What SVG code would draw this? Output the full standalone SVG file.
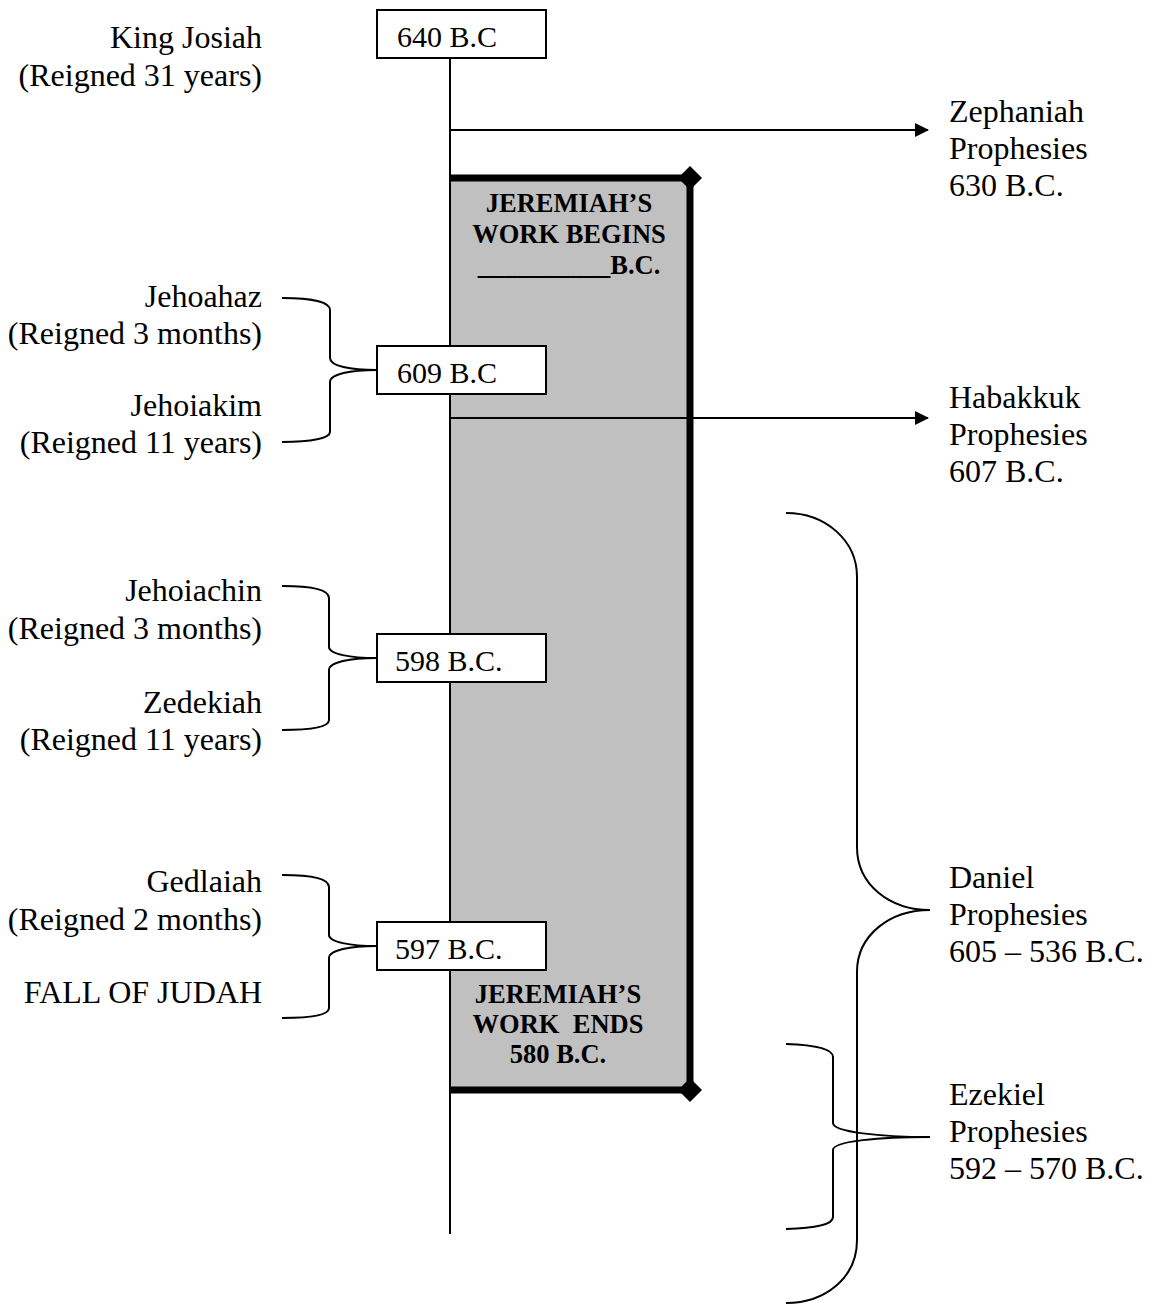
<svg xmlns="http://www.w3.org/2000/svg" width="1163" height="1305" viewBox="0 0 1163 1305">
<style>
.lbl{font-family:"Liberation Serif","Times New Roman",serif;font-size:32px;fill:#000}
.r{text-anchor:end}
.box{fill:#fff;stroke:#000;stroke-width:2}
.bt{font-family:"Liberation Serif","Times New Roman",serif;font-size:30px;fill:#000}
.bold{font-family:"Liberation Serif","Times New Roman",serif;font-size:26.5px;font-weight:bold;fill:#000;text-anchor:middle;white-space:pre}
.ln{fill:none;stroke:#000;stroke-width:2}
.br{fill:none;stroke:#000;stroke-width:2}
.thick{fill:none;stroke:#000;stroke-width:7}
</style>
<defs>
<marker id="arr" markerWidth="14" markerHeight="14" refX="13" refY="7" orient="auto" markerUnits="userSpaceOnUse">
<path d="M0,0 L14,7 L0,14 Z" fill="#000"/>
</marker>
</defs>
<g id="jeremiah">
<rect x="450" y="178" width="240" height="912" fill="#c0c0c0"/>
<path class="thick" d="M450,178 L690,178 L690,1090 L450,1090"/>
<path d="M690,166 L702,178 L690,190 L678,178 Z" fill="#000"/>
<path d="M690,1078 L702,1090 L690,1102 L678,1090 Z" fill="#000"/>
<text class="bold" x="569" y="212">JEREMIAH’S</text>
<text class="bold" x="569" y="243">WORK BEGINS</text>
<text class="bold" x="569" y="274">__________B.C.</text>
<text class="bold" x="558" y="1003">JEREMIAH’S</text>
<text class="bold" x="558" y="1033">WORK  ENDS</text>
<text class="bold" x="558" y="1063">580 B.C.</text>
</g>
<g id="connectors">
<line class="ln" x1="450" y1="58" x2="450" y2="1234"/>
<line class="ln" x1="450" y1="130" x2="928" y2="130" marker-end="url(#arr)"/>
<line class="ln" x1="450" y1="418" x2="928" y2="418" marker-end="url(#arr)"/>
<path class="br" d="M282,298 C312,298 330,302 330,310 L330,358 C330,366 350,370 377,370 C350,370 330,374 330,382 L330,432 C330,438 312,442 282,442"/>
<path class="br" d="M282,586 C312,586 329,590 329,598 L329,647 C329,654 350,658 377,658 C350,658 329,662 329,670 L329,720 C329,727 312,730 282,730"/>
<path class="br" d="M282,875 C312,875 329,879 329,887 L329,935 C329,942 350,946 377,946 C350,946 329,950 329,958 L329,1008 C329,1015 312,1018 282,1018"/>
<path class="br" d="M786,513 C825,513 857,540 857,577 L857,847 C857,885 890,910 930,910 C890,910 857,935 857,972 L857,1240 C857,1278 825,1303 786,1303"/>
<path class="br" d="M786,1044 C815,1045 833,1049 833,1057 L833,1123 C833,1132 880,1137 930,1137 C880,1137 833,1141 833,1150 L833,1217 C833,1225 815,1228 786,1229"/>
</g>
<g id="josiah">
<text class="lbl r" x="262" y="48">King Josiah</text>
<text class="lbl r" x="262" y="86">(Reigned 31 years)</text>
</g>
<g id="box640">
<rect class="box" x="377" y="10" width="169" height="48"/>
<text class="bt" x="397" y="47">640 B.C</text>
</g>
<g id="zephaniah">
<text class="lbl" x="949" y="122">Zephaniah</text>
<text class="lbl" x="949" y="159">Prophesies</text>
<text class="lbl" x="949" y="196">630 B.C.</text>
</g>
<g id="group609">
<text class="lbl r" x="262" y="307">Jehoahaz</text>
<text class="lbl r" x="262" y="344">(Reigned 3 months)</text>
<text class="lbl r" x="262" y="416">Jehoiakim</text>
<text class="lbl r" x="262" y="453">(Reigned 11 years)</text>
</g>
<g id="box609">
<rect class="box" x="377" y="346" width="169" height="48"/>
<text class="bt" x="397" y="383">609 B.C</text>
</g>
<g id="habakkuk">
<text class="lbl" x="949" y="408">Habakkuk</text>
<text class="lbl" x="949" y="445">Prophesies</text>
<text class="lbl" x="949" y="482">607 B.C.</text>
</g>
<g id="group598">
<text class="lbl r" x="262" y="601">Jehoiachin</text>
<text class="lbl r" x="262" y="639">(Reigned 3 months)</text>
<text class="lbl r" x="262" y="713">Zedekiah</text>
<text class="lbl r" x="262" y="750">(Reigned 11 years)</text>
</g>
<g id="box598">
<rect class="box" x="377" y="634" width="169" height="48"/>
<text class="bt" x="395" y="671">598 B.C.</text>
</g>
<g id="group597">
<text class="lbl r" x="262" y="892">Gedlaiah</text>
<text class="lbl r" x="262" y="930">(Reigned 2 months)</text>
<text class="lbl r" x="262" y="1003">FALL OF JUDAH</text>
</g>
<g id="box597">
<rect class="box" x="377" y="922" width="169" height="48"/>
<text class="bt" x="395" y="959">597 B.C.</text>
</g>
<g id="daniel">
<text class="lbl" x="949" y="888">Daniel</text>
<text class="lbl" x="949" y="925">Prophesies</text>
<text class="lbl" x="949" y="962">605 – 536 B.C.</text>
</g>
<g id="ezekiel">
<text class="lbl" x="949" y="1105">Ezekiel</text>
<text class="lbl" x="949" y="1142">Prophesies</text>
<text class="lbl" x="949" y="1179">592 – 570 B.C.</text>
</g>
</svg>
